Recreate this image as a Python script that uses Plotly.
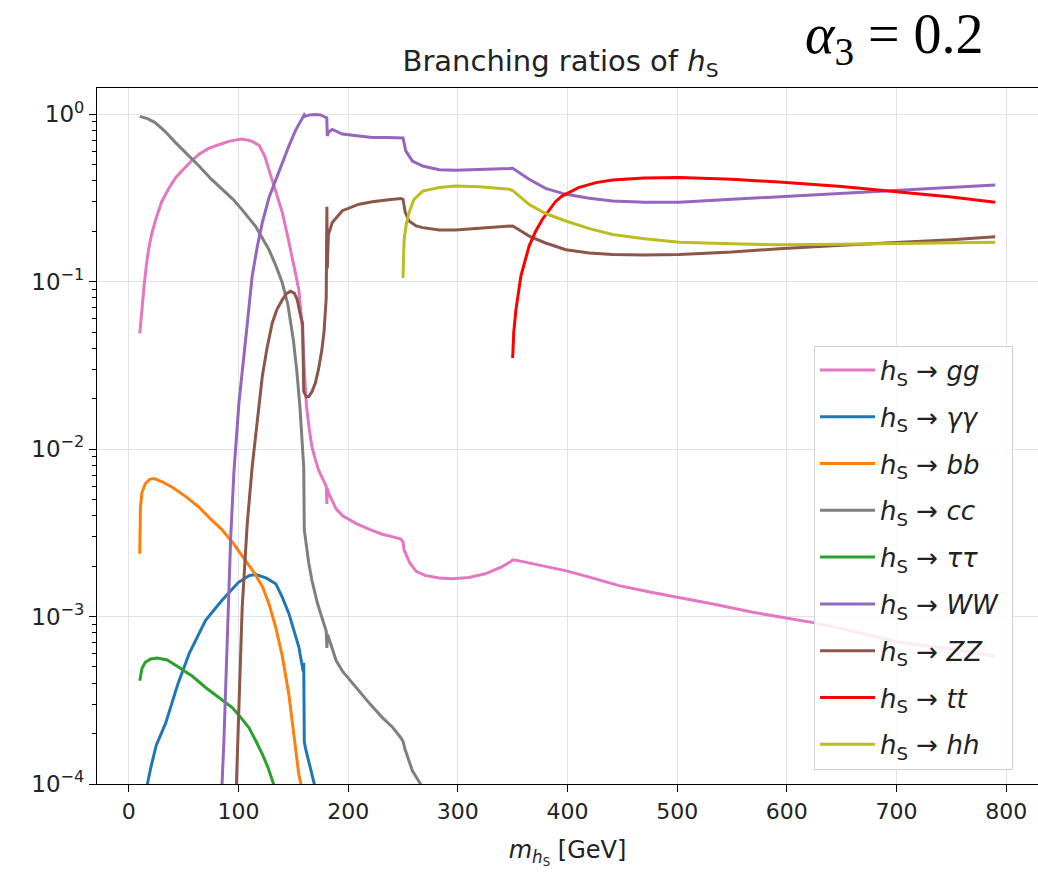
import plotly.graph_objects as go

# Branching ratios of the singlet-like scalar h_S versus its mass (alpha_3 = 0.2)

gg_m = [10, 12, 14, 16, 18, 21, 25, 30, 36, 43, 50, 57, 64, 72, 80, 92, 103, 112, 119, 124, 128,
        134, 140, 145, 149, 152, 155, 158, 160, 162, 165, 167, 170, 173, 177, 180, 180.6, 181,
        182, 185, 189, 195, 207, 220, 231, 240, 248, 250, 251, 256, 262, 270, 283, 295, 310, 325,
        340, 348, 350, 356, 362, 380, 398, 420, 447, 475, 502, 535, 569, 600, 624, 660, 703, 750,
        790]
gg_br = [0.049, 0.07, 0.095, 0.125, 0.155, 0.195, 0.24, 0.3, 0.356, 0.42, 0.47, 0.525, 0.576,
         0.62, 0.65, 0.69, 0.71, 0.69, 0.65, 0.56, 0.46, 0.35, 0.258, 0.185, 0.142, 0.112, 0.0896,
         0.055, 0.03, 0.018, 0.0125, 0.0103, 0.0087, 0.0075, 0.0066, 0.006, 0.0047, 0.0058,
         0.0055, 0.005, 0.0044, 0.004, 0.0036, 0.0033, 0.0031, 0.003, 0.0029, 0.0028, 0.0025,
         0.0021, 0.00186, 0.00176, 0.0017, 0.00168, 0.00171, 0.0018, 0.00198, 0.00212, 0.00218,
         0.00215, 0.00211, 0.002, 0.00188, 0.00172, 0.00153, 0.0014, 0.0013, 0.00118, 0.00106,
         0.00098, 0.00092, 0.00082, 0.0007, 0.00064, 0.00058]

aa_m = [10, 14, 17, 20, 25, 33.5, 45, 55, 70, 85, 100, 110, 116, 125, 134, 140, 146, 150, 155,
        159, 159.5, 160, 161, 164, 169, 175]
aa_br = [0.00003, 0.00007, 0.0001, 0.000125, 0.00017, 0.00023, 0.0004, 0.0006, 0.00095, 0.00125,
         0.0016, 0.00176, 0.00178, 0.0017, 0.00157, 0.0013, 0.00104, 0.00085, 0.00066, 0.00047,
         0.00053, 0.00018, 0.000165, 0.000137, 0.0001, 0.00007]

bb_m = [10, 10.6, 12, 15, 19, 23, 30, 40, 52, 64, 75, 85, 96, 106.5, 115, 122, 128, 134, 140, 146,
        151, 155, 157, 160]
bb_br = [0.00237, 0.0045, 0.0055, 0.0062, 0.0066, 0.00667, 0.0064, 0.0059, 0.0052, 0.0045, 0.0038,
         0.0033, 0.0027, 0.00216, 0.0018, 0.0015, 0.00118, 0.00086, 0.00058, 0.00034, 0.00019,
         0.000114, 0.0001, 0.00007]

cc_m = [10, 17, 24, 33, 42.6, 53, 64, 75, 85, 95, 103, 115.6, 127.8, 134, 140, 145, 150, 153, 156,
        159, 159.5, 160, 161, 164, 167, 172, 176, 180, 180.6, 181.2, 185, 189, 195, 207, 220, 231,
        240, 248, 250, 252, 258.6, 266, 275]
cc_br = [0.97, 0.94, 0.89, 0.79, 0.676, 0.58, 0.49, 0.41, 0.356, 0.31, 0.27, 0.214, 0.155, 0.125,
         0.098, 0.073, 0.045, 0.03, 0.018, 0.0095, 0.0078, 0.0033, 0.0029, 0.0021, 0.00164,
         0.0012, 0.00099, 0.00082, 0.00065, 0.00078, 0.00066, 0.000546, 0.00047, 0.000377,
         0.0003, 0.00025, 0.00022, 0.000189, 0.00018, 0.00016, 0.00012, 0.0001, 0.00008]

tautau_m = [10, 12, 15, 20, 26, 35, 45.6, 58, 70, 82, 94.3, 102, 109.5, 116, 121.7, 127, 132, 136]
tautau_br = [0.000414, 0.00049, 0.000533, 0.000558, 0.000566, 0.00055, 0.000498, 0.00044,
             0.000377, 0.00033, 0.000286, 0.00025, 0.000217, 0.00018, 0.000151, 0.000125, 0.0001,
             0.00008]

ww_m = [84, 85, 86.7, 89.7, 92.8, 95.8, 98, 100.4, 106.5, 112.5, 117, 121.7, 128, 134, 140, 146,
        152, 158, 159.5, 160, 161, 165, 170, 175, 179.5, 180.5, 181, 182, 185.5, 194.7, 210, 222,
        235, 248, 250, 252.5, 258.6, 268, 283, 298, 320, 347, 350, 365, 380, 398.5, 420, 441, 470,
        502, 550, 593, 650, 694, 750, 790]
ww_br = [0.00005, 0.0001, 0.00018, 0.00072, 0.00285, 0.0072, 0.0113, 0.0188, 0.045, 0.108, 0.16,
         0.225, 0.32, 0.408, 0.52, 0.646, 0.8, 0.93, 0.96, 0.99, 0.97, 0.99, 0.995, 0.99, 0.955,
         0.95, 0.74, 0.78, 0.81, 0.76, 0.74, 0.725, 0.725, 0.725, 0.72, 0.603, 0.525, 0.49, 0.465,
         0.462, 0.465, 0.473, 0.475, 0.408, 0.36, 0.332, 0.315, 0.303, 0.298, 0.298, 0.31, 0.321,
         0.335, 0.347, 0.362, 0.377]

zz_m = [97, 98, 100.4, 103.4, 108, 112.5, 115.6, 121.7, 126, 130.8, 135, 140, 144, 147.6, 151,
        153.6, 156, 158.5, 159.5, 162, 164, 167, 170, 173, 176, 178, 180, 180.6, 181, 182, 185.5,
        194.7, 210, 222, 235, 248, 250, 252, 255.5, 262, 268, 283, 298, 320, 347, 350, 358, 365,
        380, 398.5, 420, 441, 470, 502, 550, 593, 650, 694, 750, 790]
zz_br = [0.00006, 0.0001, 0.000286, 0.00114, 0.00359, 0.00784, 0.0119, 0.0271, 0.04, 0.0566,
         0.068, 0.078, 0.085, 0.0875, 0.085, 0.078, 0.065, 0.056, 0.022, 0.0205, 0.0206, 0.022,
         0.0247, 0.03, 0.039, 0.05, 0.08, 0.28, 0.12, 0.19, 0.225, 0.265, 0.29, 0.3, 0.307, 0.313,
         0.31, 0.26, 0.23, 0.215, 0.21, 0.203, 0.203, 0.208, 0.216, 0.215, 0.2, 0.187, 0.17, 0.155,
         0.148, 0.145, 0.144, 0.145, 0.15, 0.157, 0.165, 0.17, 0.178, 0.185]

tt_m = [350, 351, 353, 357.5, 365, 371, 377, 389, 395, 410, 426, 441, 470, 502, 550, 593, 650,
        694, 750, 790]
tt_br = [0.035, 0.05, 0.068, 0.108, 0.163, 0.2, 0.235, 0.3, 0.324, 0.364, 0.39, 0.404, 0.415,
         0.418, 0.408, 0.393, 0.37, 0.347, 0.32, 0.298]

hh_m = [250, 250.3, 251, 253, 255.5, 260, 268, 283, 298, 320, 347, 350, 358, 365, 380, 398.5,
        420, 441, 470, 502, 550, 593, 650, 694, 750, 790]
hh_br = [0.105, 0.14, 0.178, 0.22, 0.258, 0.31, 0.347, 0.365, 0.372, 0.368, 0.356, 0.35, 0.315,
         0.289, 0.255, 0.23, 0.207, 0.191, 0.18, 0.172, 0.168, 0.166, 0.167, 0.169, 0.171, 0.172]

channels = ["gg", "γγ", "bb", "cc", "ττ", "WW", "ZZ", "tt", "hh"]
masses = [gg_m, aa_m, bb_m, cc_m, tautau_m, ww_m, zz_m, tt_m, hh_m]
ratios = [gg_br, aa_br, bb_br, cc_br, tautau_br, ww_br, zz_br, tt_br, hh_br]
colors = ["#e377c2", "#1f77b4", "#ff7f0e", "#7f7f7f", "#2ca02c", "#9467bd", "#8c564b",
          "#ff0000", "#bcbd22"]

y_tick_vals = [1e-4, 1e-3, 1e-2, 1e-1, 1]
y_tick_text = ["10<sup>−4</sup>", "10<sup>−3</sup>", "10<sup>−2</sup>", "10<sup>−1</sup>",
               "10<sup>0</sup>"]
x_tick_vals = [0, 100, 200, 300, 400, 500, 600, 700, 800]

# minor log ticks at 2..9 x 10^k
minor_vals = [m * 10.0 ** k for k in range(-4, 1) for m in range(2, 10)]

FONT = "DejaVu Sans, sans-serif"

fig = go.Figure()
for i, (ch, m, br, col) in enumerate(zip(channels, masses, ratios, colors)):
    fig.add_trace(go.Scatter(
        x=m, y=br, mode="lines",
        line=dict(color=col, width=3),
        name=f"<i>h</i><sub>S</sub> → <i>{ch}</i> ",
        legendgroup=f"g{i}",
    ))

fig.update_layout(
    width=1038, height=872,
    margin=dict(l=97, r=0, t=88, b=88),
    paper_bgcolor="white", plot_bgcolor="white",
    font=dict(family=FONT, size=22, color="#222222"),
    title=dict(text="Branching ratios of <i>h</i><sub>S</sub>", x=0.54, xanchor="center",
               y=0.93, yanchor="middle", yref="container",
               font=dict(family=FONT, size=29, color="#222222")),
    showlegend=True,
    legend=dict(x=0.762, y=0.630, xanchor="left", yanchor="top",
                bgcolor="rgba(255,255,255,0.85)", bordercolor="#d0d0d0", borderwidth=1,
                font=dict(family=FONT, size=26, color="#222222"),
                tracegroupgap=10, itemwidth=55),
    xaxis=dict(range=[-29, 829], tickvals=x_tick_vals, showgrid=True, gridcolor="#e3e3e3",
               gridwidth=1, zeroline=False, showline=True, linecolor="black", linewidth=1.2,
               mirror=True, ticks="outside", ticklen=7, tickcolor="black",
               tickfont=dict(size=22),
               title=dict(text="<i>m</i><sub><i>h</i><sub>S</sub></sub> [GeV]", standoff=18,
                          font=dict(family=FONT, size=24))),
    yaxis=dict(type="log", range=[-4, 0.156], tickvals=y_tick_vals, ticktext=y_tick_text,
               showgrid=True, gridcolor="#e3e3e3", gridwidth=1, zeroline=False,
               showline=True, linecolor="black", linewidth=1.2, mirror=False,
               ticks="outside", ticklen=7, tickcolor="black", tickfont=dict(size=23),
               minor=dict(tickvals=minor_vals, ticks="outside", ticklen=4, tickcolor="black",
                          showgrid=False)),
)

fig.add_annotation(text="<i>α</i><sub>3</sub> = 0.2", xref="paper", yref="paper",
                   x=0.847, y=1.124, xanchor="center", yanchor="top", showarrow=False,
                   borderpad=0,
                   font=dict(family="Liberation Serif, DejaVu Serif, serif", size=56,
                             color="black"))

fig.write_html("out.html")
